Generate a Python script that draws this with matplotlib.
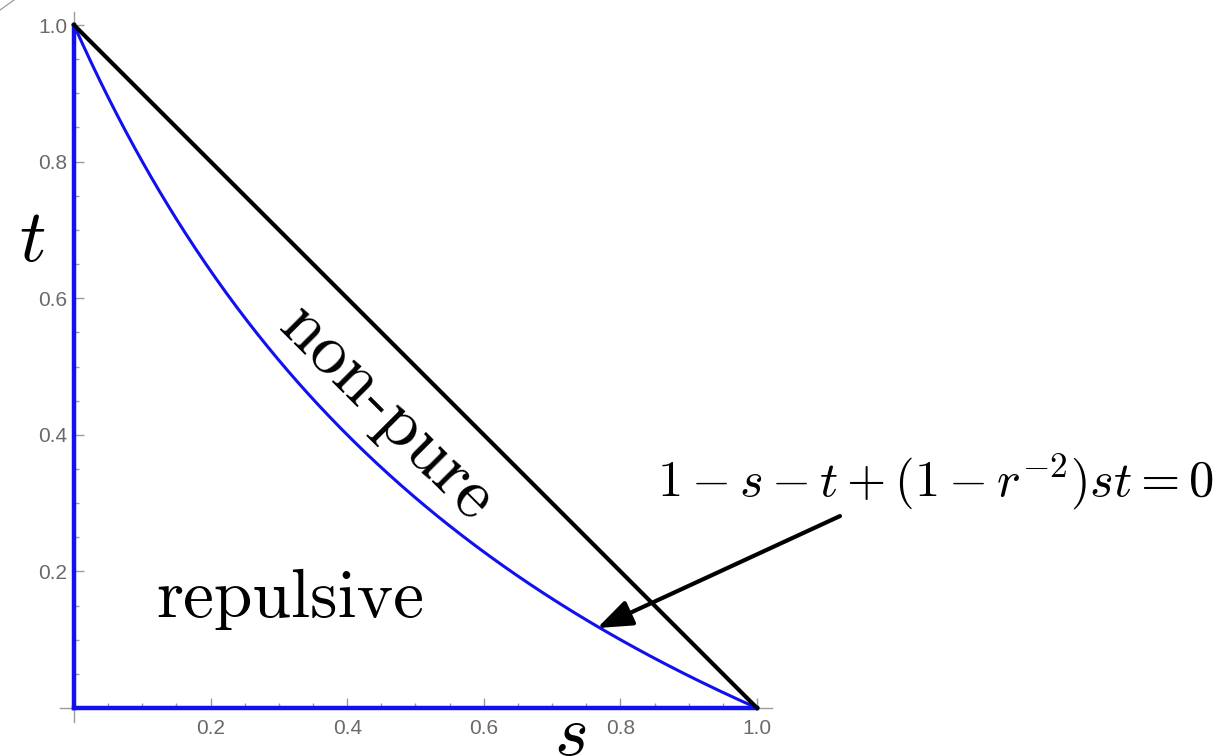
import numpy as np
import matplotlib
matplotlib.use("Agg")
import matplotlib.pyplot as plt
from matplotlib.lines import Line2D
from matplotlib.ticker import MultipleLocator, FixedLocator

plt.rcParams["mathtext.fontset"] = "cm"

# Parameter of the boundary curve 1 - s - t + (1 - r^-2) s t = 0
r = 2.0 / 3.0
# Tick positions and labels
x_ticks = [0.2, 0.4, 0.6, 0.8, 1.0]
x_tick_labels = ["0.2", "0.4", "0.6", "0.8", "1.0"]
y_ticks = [0.2, 0.4, 0.6, 0.8, 1.0]
y_tick_labels = ["0.2", "0.4", "0.6", "0.8", "1.0"]
# Straight boundary s + t = 1
diag_s = [0.0, 1.0]
diag_t = [1.0, 0.0]
# Arrow pointing at the curve (tail, head) in (s, t)
arrow_tail = (1.1215, 0.281)
arrow_head = (0.766, 0.117)

W, H = 1228, 756
fig = plt.figure(figsize=(W / 100, H / 100), dpi=100)

x0, y0, unit = 74, 48, 683  # pixel position of origin and length of a unit
xlim = (-0.021, 1.022)
ylim = (-0.021, 1.019)
left = x0 + xlim[0] * unit
bottom = y0 + ylim[0] * unit
ax = fig.add_axes([left / W, bottom / H,
                   (xlim[1] - xlim[0]) * unit / W,
                   (ylim[1] - ylim[0]) * unit / H])
ax.set_xlim(*xlim)
ax.set_ylim(*ylim)

axis_grey = "#9a9a9a"
for side in ("top", "right"):
    ax.spines[side].set_visible(False)
for side in ("left", "bottom"):
    ax.spines[side].set_position(("data", 0))
    ax.spines[side].set_color(axis_grey)
    ax.spines[side].set_linewidth(1.0)

ax.xaxis.set_major_locator(FixedLocator(x_ticks))
ax.set_xticklabels(x_tick_labels)
ax.yaxis.set_major_locator(FixedLocator(y_ticks))
ax.set_yticklabels(y_tick_labels)
ax.xaxis.set_minor_locator(MultipleLocator(0.05))
ax.yaxis.set_minor_locator(MultipleLocator(0.05))
ax.tick_params(which="both", direction="in", color=axis_grey, width=1.0)
ax.tick_params(which="major", length=7, labelsize=15, labelcolor="#6a6a6a")
ax.tick_params(which="minor", length=3.5)
ax.tick_params(axis="x", which="major", pad=8)
ax.tick_params(axis="y", which="major", pad=5)
for lab in ax.get_xticklabels() + ax.get_yticklabels():
    lab.set_fontfamily("Liberation Sans")

# Blue region boundaries
blue = "#1010f0"
s = np.linspace(0, 1, 400)
k = 1 - r ** -2
t_curve = (1 - s) / (1 - k * s)
ax.plot(s, t_curve, color=blue, lw=2.2, solid_capstyle="butt", zorder=4, clip_on=False)
ax.plot([0, 0], [0, 1], color=blue, lw=3.2, zorder=4, clip_on=False)
ax.plot([0, 1], [0, 0], color=blue, lw=3.2, zorder=4, clip_on=False)

# Black line s + t = 1
ax.plot(diag_s, diag_t, color="black", lw=3, zorder=5, clip_on=False)

# Arrow and equation label
ax.annotate("", xy=arrow_head, xytext=arrow_tail, xycoords="data",
            arrowprops=dict(arrowstyle="-|>,head_length=0.85,head_width=0.32",
                            lw=3, color="black", mutation_scale=25,
                            shrinkA=0, shrinkB=0),
            annotation_clip=False, zorder=6)
fig.text(935 / W, 1 - 497 / H, r"$1-s-t+(1-r^{-2})st=0$", fontsize=36.3,
         ha="center", va="baseline")

# Region names
fig.text(290 / W, 1 - 617 / H, "repulsive", fontfamily="cmr10", fontsize=50,
         ha="center", va="baseline")
fig.text(387 / W, 1 - 414 / H, "non-pure", fontfamily="cmr10", fontsize=51,
         ha="center", va="center", rotation=-45, rotation_mode="anchor")

# Axis names
fig.text(32 / W, 1 - 240 / H, r"$t$", fontsize=53, ha="center", va="center")
fig.text(570 / W, 1 - 735 / H, r"$s$", fontsize=52, ha="center", va="center")

# Small corner stroke
fig.add_artist(Line2D([0, 14 / W], [1 - 10 / H, 1], color="#909090", lw=0.8))

fig.savefig("out.png", dpi=100)
